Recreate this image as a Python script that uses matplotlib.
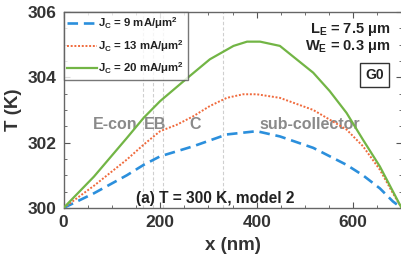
import matplotlib
matplotlib.use("Agg")
import matplotlib.pyplot as plt
from matplotlib.ticker import MultipleLocator

plt.rcParams['font.family'] = ['Liberation Sans', 'DejaVu Sans']
plt.rcParams['font.weight'] = 'bold'
plt.rcParams['mathtext.fontset'] = 'custom'
plt.rcParams['mathtext.rm'] = 'Liberation Sans:bold'
plt.rcParams['mathtext.bf'] = 'Liberation Sans:bold'
plt.rcParams['mathtext.it'] = 'Liberation Sans:bold:italic'
plt.rcParams['mathtext.default'] = 'bf'

# Data
x_blue = [0, 63, 131, 166, 200, 269, 338, 400, 448, 517, 586, 620, 655, 682, 700]
T_blue = [300, 300.45, 301.0, 301.32, 301.58, 301.89, 302.25, 302.35, 302.19, 301.84,
          301.32, 301.0, 300.6, 300.2, 300]

x_orange = [0, 63, 131, 166, 200, 235, 269, 303, 338, 372, 400, 448, 517, 586, 620,
            655, 682, 700]
T_orange = [300, 300.68, 301.48, 301.94, 302.35, 302.55, 302.81, 303.12, 303.37, 303.48,
            303.48, 303.37, 303.0, 302.4, 301.89, 301.17, 300.45, 300]

x_green = [0, 63, 131, 166, 200, 255, 303, 352, 380, 407, 448, 517, 551, 586, 620,
           655, 700]
T_green = [300, 300.96, 302.14, 302.76, 303.27, 303.96, 304.55, 304.96, 305.09, 305.09,
           304.96, 304.14, 303.58, 302.91, 302.09, 301.27, 300]

labels = [r'J$_\mathbf{C}$ = 9 mA/$\mu$m$^\mathbf{2}$',
          r'J$_\mathbf{C}$ = 13 mA/$\mu$m$^\mathbf{2}$',
          r'J$_\mathbf{C}$ = 20 mA/$\mu$m$^\mathbf{2}$']

boundaries = [165, 185, 205, 330]
regions = ['E-con', 'EB', 'C', 'sub-collector']
region_x = [107, 190, 273, 510]
region_T = 302.55

fig = plt.figure(figsize=(4.02, 2.59), dpi=100)
ax = fig.add_axes([0.158, 0.197, 0.841, 0.757])

for b in boundaries:
    ax.axvline(b, color='#cfcfcf', ls=(0, (3, 2)), lw=0.8, zorder=1)

ax.plot(x_blue, T_blue, color='#2b8fdc', ls=(0, (4, 2.2)), lw=1.9, label=labels[0], zorder=3)
ax.plot(x_orange, T_orange, color='#f06a3c', ls=(0, (1, 0.9)), lw=1.4, label=labels[1], zorder=3)
ax.plot(x_green, T_green, color='#72b545', ls='-', lw=1.6, label=labels[2], zorder=3)

for name, xr in zip(regions, region_x):
    ax.text(xr, region_T, name, color='#8a8a8a', fontsize=11.5, fontweight='bold',
            ha='center', va='center', zorder=2)

ax.text(314, 300.3, '(a) T = 300 K, model 2', color='#222222', fontsize=11.2,
        fontweight='bold', ha='center', va='center')

ax.text(0.967, 0.908, r'L$_\mathbf{E}$ = 7.5 $\mu$m', transform=ax.transAxes,
        ha='right', va='center', fontsize=10.5, color='#222222')
ax.text(0.967, 0.823, r'W$_\mathbf{E}$ = 0.3 $\mu$m', transform=ax.transAxes,
        ha='right', va='center', fontsize=10.5, color='#222222')
ax.text(0.92, 0.68, 'G0', transform=ax.transAxes, ha='center', va='center',
        fontsize=10, color='#222222',
        bbox=dict(boxstyle='square,pad=0.35', fc='white', ec='#333333', lw=1.0))

ax.set_xlim(0, 700)
ax.set_ylim(300, 306)
ax.xaxis.set_major_locator(MultipleLocator(200))
ax.xaxis.set_minor_locator(MultipleLocator(50))
ax.yaxis.set_major_locator(MultipleLocator(2))
ax.yaxis.set_minor_locator(MultipleLocator(0.5))
ax.tick_params(which='both', direction='in', top=True, right=True,
               colors='#555555', labelcolor='#333333', labelsize=12.5)
ax.tick_params(which='major', length=4, width=0.8, pad=5)
ax.tick_params(which='minor', length=2.2, width=0.6)
for lab in ax.get_xticklabels() + ax.get_yticklabels():
    lab.set_fontweight('bold')
for s in ax.spines.values():
    s.set_color('#666666')
    s.set_linewidth(1.0)

ax.set_xlabel('x (nm)', fontsize=13.5, fontweight='bold', color='#333333', labelpad=5)
ax.set_ylabel('T (K)', fontsize=13.5, fontweight='bold', color='#333333', labelpad=4)

leg = ax.legend(loc='upper left', bbox_to_anchor=(0, 1), fontsize=8.2, frameon=True,
                fancybox=False, edgecolor='#555555', borderaxespad=0,
                handlelength=2.6, handletextpad=0.15, labelspacing=0.6,
                borderpad=0.3)
leg.get_frame().set_linewidth(1.0)
for t in leg.get_texts():
    t.set_color('#222222')

fig.savefig('out.png', dpi=100)
